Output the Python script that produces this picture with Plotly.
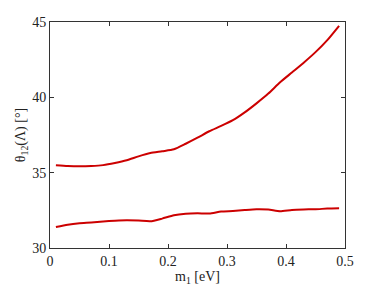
import plotly.graph_objects as go

m1 = [0.01, 0.03, 0.05, 0.07, 0.09, 0.11, 0.13, 0.15, 0.17, 0.19, 0.21, 0.23, 0.25,
      0.27, 0.29, 0.31, 0.33, 0.35, 0.37, 0.39, 0.41, 0.43, 0.45, 0.47, 0.49]
theta_upper = [35.49, 35.44, 35.42, 35.44, 35.50, 35.64, 35.82, 36.08, 36.30, 36.42, 36.55,
               36.92, 37.32, 37.75, 38.10, 38.48, 39.00, 39.60, 40.25, 41.00, 41.65, 42.30,
               43.00, 43.80, 44.75]
theta_lower = [31.40, 31.55, 31.64, 31.69, 31.76, 31.81, 31.84, 31.82, 31.77, 31.95, 32.17,
               32.27, 32.30, 32.29, 32.42, 32.46, 32.52, 32.57, 32.55, 32.44, 32.53, 32.56,
               32.57, 32.62, 32.64]
x_ticks = [0, 0.1, 0.2, 0.3, 0.4, 0.5]
x_tick_labels = ["0", "0.1", "0.2", "0.3", "0.4", "0.5"]
y_ticks = [30, 35, 40, 45]

red = "#cc0000"
fig = go.Figure()
for ys in (theta_upper, theta_lower):
    fig.add_trace(go.Scatter(x=m1, y=ys, mode="lines",
                             line=dict(color=red, width=2, shape="spline", smoothing=0.6),
                             showlegend=False, hoverinfo="skip"))

font = dict(family="Liberation Serif", size=14, color="#222")
axis_common = dict(showgrid=False, zeroline=False, showline=True, linecolor="#333",
                   linewidth=1, mirror="ticks", ticks="inside", ticklen=4,
                   tickcolor="#333", tickfont=font, automargin=False)
fig.update_layout(
    width=374, height=281,
    margin=dict(l=42, r=37, t=14, b=41),
    paper_bgcolor="white", plot_bgcolor="white",
    font=font,
    xaxis=dict(range=[0, 0.5], tickvals=x_ticks, ticktext=x_tick_labels,
               title=dict(text="m<sub>1</sub> [eV]", font=font, standoff=0), **axis_common),
    yaxis=dict(range=[30, 45], tickvals=y_ticks,
               title=dict(text="θ<sub>12</sub>(Λ) [°]", font=font, standoff=3), **axis_common),
)
fig.write_html("out.html")
